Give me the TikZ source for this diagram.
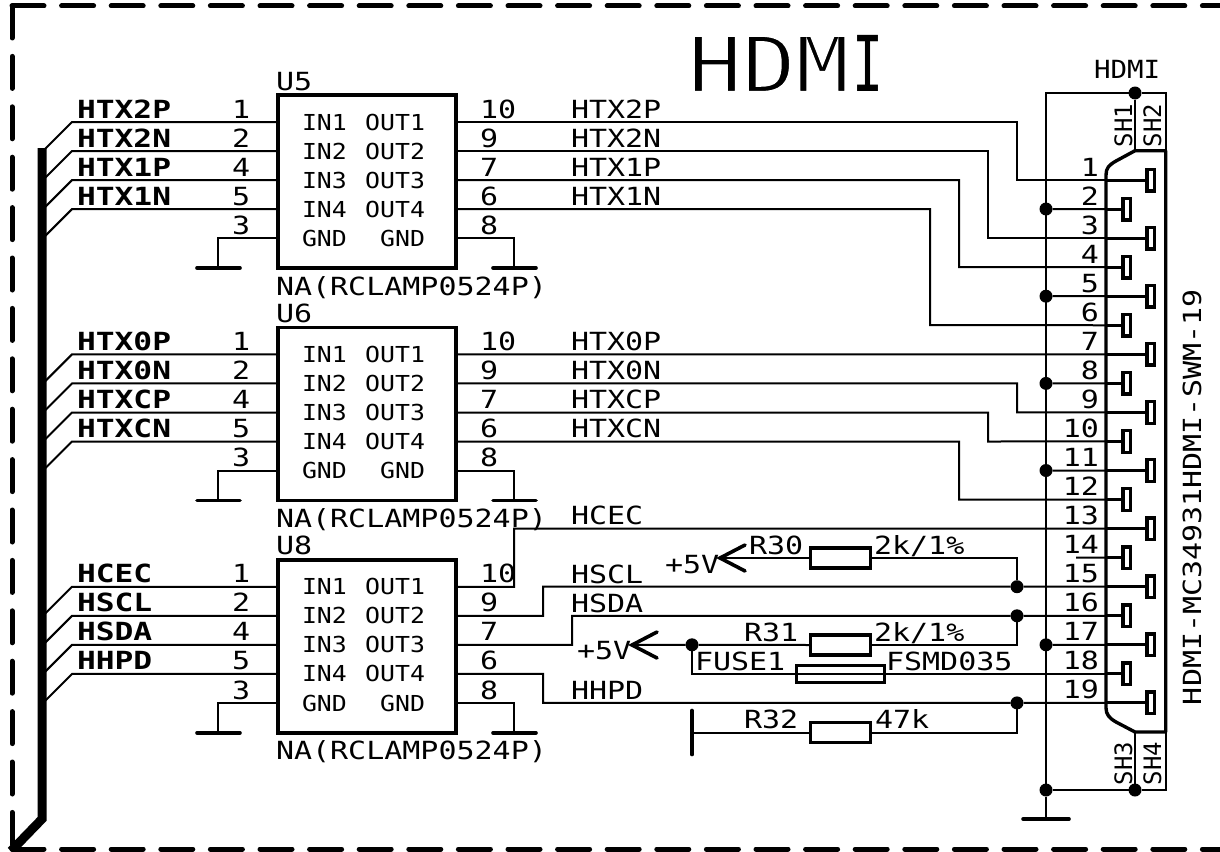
\documentclass[tikz,border=0pt]{standalone}
\usepackage{fontspec}
\newfontfamily\pcb[FakeStretch=1.20]{DejaVu Sans Mono}
\newfontfamily\pcbs[FakeStretch=1.13]{DejaVu Sans Mono}
\newfontfamily\pcbh[FakeStretch=1.10]{DejaVu Sans Mono}
\newfontfamily\pcbn{DejaVu Sans Mono}
\newfontfamily\pcbb[FakeStretch=1.25]{DejaVu Sans Mono Bold}
\newfontfamily\pcbt[FakeStretch=1.16]{DejaVu Sans Mono}
\newfontfamily\pcbti[FakeStretch=0.67]{DejaVu Sans Mono}
\tikzset{
  lbl/.style={inner sep=0pt,outer sep=0pt,anchor=base west,font=\pcb\fontsize{25}{25}\selectfont},
  lblr/.style={lbl,anchor=base east},
  inlbl/.style={lbl,font=\pcbs\fontsize{22}{22}\selectfont},
  inlblr/.style={inlbl,anchor=base east},
  bus/.style={lbl,font=\pcbb\fontsize{25}{25}\selectfont},
  shlbl/.style={lbl,rotate=90,font=\pcbn\fontsize{24}{24}\selectfont},
  wire/.style={line width=2pt,line join=miter},
  icbox/.style={draw,line width=3.6pt,minimum width=178pt,minimum height=173pt,anchor=north west,inner sep=0pt,outer sep=0pt},
  gndbar/.style={line width=3.6pt,line cap=round},
  pad/.style={draw,line width=3.4pt,minimum width=7.4pt,minimum height=21.6pt,inner sep=0pt,outer sep=0pt},
  padwire/.style={line width=3pt},
  res/.style={draw,line width=3.4pt,minimum width=60pt,minimum height=20pt,inner sep=0pt,outer sep=0pt},
  junc/.style={circle,fill=black,inner sep=0pt,outer sep=0pt,minimum size=13pt},
  frame/.style={line width=5pt,line cap=round,line join=round},
}
\begin{document}
\begin{tikzpicture}[x=1pt,y=-1pt]
\useasboundingbox (0,0) rectangle (1220,851);
% frame
\draw[frame,dash pattern=on 32pt off 17.6pt] (12,6) -- (1222,6);
\draw[frame,dash pattern=on 32pt off 18.4pt] (12,6) -- (12,849);
\draw[frame,dash pattern=on 32pt off 17.6pt] (12,849) -- (1222,849);
% bus
\draw[line width=9pt,line join=miter] (42,148) -- (42,819) -- (11,851);
% title
\node[inner sep=0pt,outer sep=0pt,anchor=base west,font=\pcbt\fontsize{77}{77}\selectfont] (title) at (688,92) {\special{pdf:code 2 Tr 2 w 1 1 1 RG}HDM\special{pdf:code 0 Tr 0 0 0 RG 1 w}\kern 3pt{\pcbti I}};
% connector pin coordinates
\foreach \n in {1,...,19}{
  \pgfmathsetmacro\yy{180+29.05*(\n-1)}
  \coordinate (P\n) at (1106,\yy);
  \pgfmathsetmacro\lx{1099}
  \node[lblr] (num\n) at (\lx,\yy-4) {\n};
  \pgfmathparse{int(mod(\n,2))}
  \ifnum\pgfmathresult=1
    \node[pad] (pad\n) at (1150.7,\yy) {};
  \else
    \node[pad] (pad\n) at (1126.7,\yy) {};
  \fi
  \draw[padwire] (P\n) -- (pad\n.west);
}
% ICs
\foreach \u/\off/\ta/\tb/\tc/\td/\ulbl in {
  U5/0/HTX2P/HTX2N/HTX1P/HTX1N/U5,
  U6/232.4/HTX0P/HTX0N/HTXCP/HTXCN/U6,
  U8/464.8/HCEC/HSCL/HSDA/HHPD/U8}{
  \node[icbox] (\u) at (278,95+\off) {};
  \node[lbl] (\u name) at (276,90+\off) {\ulbl};
  \node[lbl] (\u val) at (276,295+\off) {NA(RCLAMP0524P)};
  \foreach \k/\pl/\pr/\il/\ir in {1/1/10/IN1/OUT1,2/2/9/IN2/OUT2,3/4/7/IN3/OUT3,4/5/6/IN4/OUT4,5/3/8/GND/GND}{
    \pgfmathsetmacro\yy{122+29.05*(\k-1)+\off}
    \coordinate (\u L\k) at (278,\yy);
    \coordinate (\u R\k) at (456,\yy);
    \node[lbl] (\u pl\k) at (232,\yy-4) {\pl};
    \node[lbl] (\u pr\k) at (480,\yy-4) {\pr};
    \node[inlbl] (\u il\k) at (302,\yy+8) {\il};
    \node[inlblr] (\u ir\k) at (425,\yy+8) {\ir};
  }
  \foreach \k/\t in {1/\ta,2/\tb,3/\tc,4/\td}{
    \pgfmathsetmacro\yy{122+29.05*(\k-1)+\off}
    \node[bus] (\u bus\k) at (77,\yy-4) {\t};
    \coordinate (\u E\k) at (72,\yy);
    \coordinate (\u F\k) at (42,\yy+30);
    \draw[wire] (\u F\k) -- (\u E\k) -- (\u L\k);
  }
  \coordinate (\u GL) at (218,268+\off);
  \coordinate (\u GR) at (514,268+\off);
  \draw[wire] (\u L5) -| (\u GL);
  \draw[wire] (\u R5) -| (\u GR);
  \draw[gndbar] ([xshift=-21pt]\u GL) -- ([xshift=22pt]\u GL);
  \draw[gndbar] ([xshift=-21pt]\u GR) -- ([xshift=22pt]\u GR);
}
% net labels
\node[lbl] (nA) at (571,118) {HTX2P};
\node[lbl] (nB) at (571,147) {HTX2N};
\node[lbl] (nC) at (571,176) {HTX1P};
\node[lbl] (nD) at (571,205) {HTX1N};
\node[lbl] (nE) at (571,350) {HTX0P};
\node[lbl] (nF) at (571,379.5) {HTX0N};
\node[lbl] (nG) at (571,408.5) {HTXCP};
\node[lbl] (nH) at (571,437.5) {HTXCN};
\node[lbl] (nI) at (571,524) {HCEC};
\node[lbl] (nJ) at (571,583) {HSCL};
\node[lbl] (nK) at (571,612) {HSDA};
\node[lbl] (nL) at (571,699) {HHPD};
% junctions
\node[junc] (j2) at (1046,209) {};
\node[junc] (j5) at (1046,296.2) {};
\node[junc] (j8) at (1046,383.4) {};
\node[junc] (j11) at (1046,470.5) {};
\node[junc] (j17) at (1046,644.8) {};
\node[junc] (jb) at (1046,790) {};
\node[junc] (jsh1) at (1135,93) {};
\node[junc] (jsh3) at (1135,790) {};
\node[junc] (j15) at (1017,586.7) {};
\node[junc] (j16) at (1017,615.8) {};
\node[junc] (j19) at (1017,702.9) {};
\node[junc] (j5v) at (692,644.8) {};
% signal wires
\draw[wire] (U5R1) -| (1017,180) -- (P1);
\draw[wire] (U5R2) -| (988,238.1) -- (P3);
\draw[wire] (U5R3) -| (959,267.2) -- (P4);
\draw[wire] (U5R4) -| (930,325.2) -- (P6);
\draw[wire] (U6R1) -- (P7);
\draw[wire] (U6R2) -| (1017,412.4) -- (P9);
\draw[wire] (U6R3) -| (988,441.5) -- (P10);
\draw[wire] (U6R4) -| (959,499.5) -- (P12);
\draw[wire] (U8R1) -| (514,528.6) -- (P13);
\draw[wire] (U8R2) -| (543,586.7) -- (j15) -- (P15);
\draw[wire] (U8R3) -| (572,615.8) -- (j16) -- (P16);
\draw[wire] (U8R4) -| (543,702.9) -- (j19) -- (P19);
\coordinate (s14) at (1076,557.7);
\draw[wire] (s14) -- (P14);
\draw[wire] (j2) -- (P2);
\draw[wire] (j5) -- (P5);
\draw[wire] (j8) -- (P8);
\draw[wire] (j11) -- (P11);
\draw[wire] (j17) -- (P17);
% shield
\coordinate (gnd) at (1046,819);
\coordinate (sb) at (1165.7,790);
\coordinate (st) at (1165.7,93);
\draw[wire] (jsh1) -| (1046,93) -- (jb);
\draw[wire] (jb) -- (gnd);
\draw[wire] (jb) -- (jsh3) -- (sb) -- (1165.7,732);
\draw[wire] (jsh1) -- (st) -- (1165.7,151);
\draw[wire] (jsh1) -- (1135,151);
\draw[wire] (jsh3) -- (1135,732);
\draw[gndbar] ([xshift=-23pt]gnd) -- ([xshift=23pt]gnd);
\draw[line width=3.4pt,line join=round]
  (1135,150.7) -- (1165.7,150.7) -- (1165.7,732) -- (1135,732) -- (1116,722)
  .. controls (1109,718) and (1106,714) .. (1106,708) -- (1106,175)
  .. controls (1106,168) and (1109,165) .. (1116,161) -- cycle;
% resistors
\node[res] (R30b) at (840.5,558) {};
\node[res] (R31b) at (840.5,645) {};
\node[res] (R32b) at (840.5,732.5) {};
\node[res,minimum width=88pt,minimum height=17pt,line width=3pt] (F1b) at (840.5,674) {};
\coordinate (a30) at (720,558);
\coordinate (a31) at (632,645);
\draw[wire] (a30) -- (R30b.west);
\draw[wire] (R30b.east) -| (j15);
\draw[wire] (a31) -- (j5v) -- (R31b.west);
\draw[wire] (R31b.east) -| (j16);
\draw[wire] (j5v) |- (P18);
\coordinate (bar32) at (692,732.5);
\draw[wire] (bar32) -- (R32b.west);
\draw[wire] (R32b.east) -| (j19);
\draw[gndbar] (692,710.5) -- (692,754.5);
\draw[gndbar,line width=3.6pt] ([shift={(25,-13)}]a30) -- (a30) -- ([shift={(25,13)}]a30);
\draw[gndbar,line width=3.6pt] ([shift={(25,-13)}]a31) -- (a31) -- ([shift={(25,13)}]a31);
% part labels
\node[lbl] (tR30) at (749,554) {R30};
\node[lbl] (vR30) at (874,554) {2k/1\%};
\node[lbl] (p1) at (665,573) {+5V};
\node[lbl] (tR31) at (744,641) {R31};
\node[lbl] (vR31) at (874,641) {2k/1\%};
\node[lbl] (p2) at (577,659) {+5V};
\node[lbl] (tF) at (695,670) {FUSE1};
\node[lbl] (vF) at (886,670) {FSMD035};
\node[lbl] (tR32) at (744,728) {R32};
\node[lbl] (vR32) at (875,728) {47k};
% connector labels
\node[lbl,font=\pcbh\fontsize{25}{25}\selectfont] (chdmi) at (1094,78) {HDMI};
\node[shlbl] (sh1) at (1132,147) {SH1};
\node[shlbl] (sh2) at (1161,147) {SH2};
\node[shlbl] (sh3) at (1132,785) {SH3};
\node[shlbl] (sh4) at (1161,785) {SH4};
\node[lbl,rotate=90] (cval) at (1201,705) {HDMI-MC34931HDMI-SWM-19};
\end{tikzpicture}
\end{document}
